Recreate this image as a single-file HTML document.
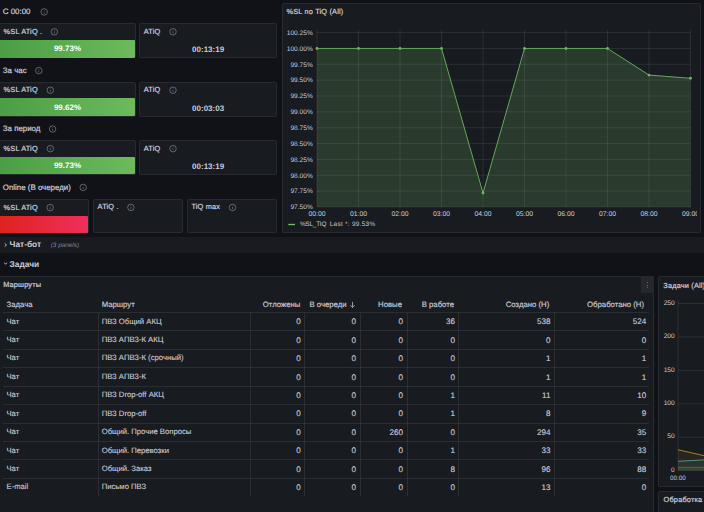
<!DOCTYPE html>
<html><head><meta charset="utf-8"><style>
*{margin:0;padding:0;box-sizing:border-box}
html,body{width:704px;height:512px;overflow:hidden;background:#111217;font-family:"Liberation Sans",sans-serif;color:#ccccdc;text-rendering:geometricPrecision}
.a{position:absolute}
.t{position:absolute;white-space:nowrap;line-height:1}
.p{position:absolute;background:#181b1f;border:1px solid rgba(204,204,220,0.09);border-radius:2px}
.ttl{font-size:7.35px;letter-spacing:0.18px;-webkit-text-stroke:0.22px #ccccdc;color:#ccccdc}
.hd{font-size:7.9px;-webkit-text-stroke:0.2px #ccccdc;color:#ccccdc}
.val{font-size:8px;font-weight:700;color:#fff;text-align:center}
.val2{font-size:8px;font-weight:700;color:#ccccdc;text-align:center}
.g{position:absolute;background:linear-gradient(to right,#4b9e45,#6cba5c)}
.yl{position:absolute;white-space:nowrap;line-height:1;font-size:6.6px;color:#ccccdc;text-align:right;width:30px}
.xl{position:absolute;white-space:nowrap;line-height:1;font-size:6.3px;color:#ccccdc;text-align:center;width:30px}
.th{position:absolute;white-space:nowrap;line-height:1;font-size:7.75px;-webkit-text-stroke:0.15px #ccccdc;color:#ccccdc}
.td{position:absolute;white-space:nowrap;line-height:1;font-size:7.7px;color:#ccccdc;-webkit-text-stroke:0.1px #ccccdc}
.tn{font-size:8.1px;-webkit-text-stroke:0.12px #ccccdc}
.r{text-align:right;width:80px}
</style></head>
<body>
<div class="t hd" style="left:2.8px;top:7.6px;">С 00:00</div><div class="p" style="left:-1px;top:23.2px;width:137px;height:35.0px"></div><div class="t ttl" style="left:3.6px;top:27.8px;">%SL ATiQ .</div><div class="g" style="left:0px;top:40.0px;width:135px;height:17.5px;border-radius:0 1px 1px 0"></div><div class="t val" style="left:-1px;width:137px;top:45.2px">99.73%</div><div class="p" style="left:139.2px;top:23.2px;width:137.8px;height:35.0px"></div><div class="t ttl" style="left:143.8px;top:27.8px;">ATiQ</div><div class="t val2" style="left:139.2px;width:137.8px;top:46.2px">00:13:19</div><div class="t hd" style="left:2.8px;top:66.6px;">За час</div><div class="p" style="left:-1px;top:81.6px;width:137px;height:35.0px"></div><div class="t ttl" style="left:3.6px;top:86.2px;">%SL ATiQ</div><div class="g" style="left:0px;top:98.4px;width:135px;height:17.5px;border-radius:0 1px 1px 0"></div><div class="t val" style="left:-1px;width:137px;top:103.6px">99.62%</div><div class="p" style="left:139.2px;top:81.6px;width:137.8px;height:35.0px"></div><div class="t ttl" style="left:143.8px;top:86.2px;">ATiQ</div><div class="t val2" style="left:139.2px;width:137.8px;top:104.6px">00:03:03</div><div class="t hd" style="left:2.8px;top:125.0px;">За период</div><div class="p" style="left:-1px;top:140.1px;width:137px;height:35.0px"></div><div class="t ttl" style="left:3.6px;top:144.7px;">%SL ATiQ</div><div class="g" style="left:0px;top:156.9px;width:135px;height:17.5px;border-radius:0 1px 1px 0"></div><div class="t val" style="left:-1px;width:137px;top:162.1px">99.73%</div><div class="p" style="left:139.2px;top:140.1px;width:137.8px;height:35.0px"></div><div class="t ttl" style="left:143.8px;top:144.7px;">ATiQ</div><div class="t val2" style="left:139.2px;width:137.8px;top:163.1px">00:13:19</div><div class="t hd" style="left:2.8px;top:183.5px;">Online (В очереди)</div><div class="p" style="left:-1px;top:198.8px;width:90px;height:34.4px"></div><div class="t ttl" style="left:3.6px;top:203.6px;">%SL ATiQ</div><div class="a" style="left:0;top:215.6px;width:88px;height:17.2px;background:linear-gradient(to right,#e0221f,#ed305c);border-radius:0 1px 1px 0"></div><div class="p" style="left:93px;top:198.8px;width:90.2px;height:34.4px"></div><div class="t ttl" style="left:97.6px;top:203.4px;">ATiQ .</div><div class="p" style="left:186.8px;top:198.8px;width:90.0px;height:34.4px"></div><div class="t ttl" style="left:191.4px;top:203.4px;">TiQ max</div><div class="p" style="left:281.5px;top:3px;width:419.5px;height:229.6px"></div><div class="t ttl" style="left:286.5px;top:8.2px;">%SL по TiQ (All)</div><div class="yl" style="left:282.8px;top:30.90px">100.25%</div><div class="yl" style="left:282.8px;top:46.75px">100.00%</div><div class="yl" style="left:282.8px;top:62.60px">99.75%</div><div class="yl" style="left:282.8px;top:78.45px">99.50%</div><div class="yl" style="left:282.8px;top:94.30px">99.25%</div><div class="yl" style="left:282.8px;top:110.15px">99.00%</div><div class="yl" style="left:282.8px;top:126.00px">98.75%</div><div class="yl" style="left:282.8px;top:141.85px">98.50%</div><div class="yl" style="left:282.8px;top:157.70px">98.25%</div><div class="yl" style="left:282.8px;top:173.55px">98.00%</div><div class="yl" style="left:282.8px;top:189.40px">97.75%</div><div class="yl" style="left:282.8px;top:205.25px">97.50%</div><div class="a" style="left:0;top:0;width:696.8px;height:240px;overflow:hidden"><div class="xl" style="left:302.00px;top:212.1px;font-size:6.8px">00:00</div><div class="xl" style="left:343.50px;top:212.1px;font-size:6.8px">01:00</div><div class="xl" style="left:385.00px;top:212.1px;font-size:6.8px">02:00</div><div class="xl" style="left:426.50px;top:212.1px;font-size:6.8px">03:00</div><div class="xl" style="left:468.00px;top:212.1px;font-size:6.8px">04:00</div><div class="xl" style="left:509.50px;top:212.1px;font-size:6.8px">05:00</div><div class="xl" style="left:551.00px;top:212.1px;font-size:6.8px">06:00</div><div class="xl" style="left:592.50px;top:212.1px;font-size:6.8px">07:00</div><div class="xl" style="left:634.00px;top:212.1px;font-size:6.8px">08:00</div><div class="xl" style="left:675.50px;top:212.1px;font-size:6.8px">09:00</div></div><div class="t " style="left:299.9px;top:222.4px;font-size:6.4px;color:#ccccdc;letter-spacing:-0.2px">%SL_TIQ</div><div class="t " style="left:329.7px;top:222.4px;font-size:6.4px;color:#ccccdc;letter-spacing:0.3px">Last *: 99.53%</div><div class="a" style="left:0;top:237px;width:704px;height:15.5px;background:#191b20"></div><div class="t hd" style="left:9.5px;top:239.9px;font-size:8.4px;font-weight:700;-webkit-text-stroke:0">Чат-бот</div><div class="t " style="left:50.7px;top:242.5px;font-size:6.4px;font-style:italic;color:rgba(204,204,220,0.6)">(3 panels)</div><div class="t hd" style="left:9.5px;top:260px;font-size:8.4px;font-weight:700;-webkit-text-stroke:0">Задачи</div><div class="p" style="left:-1px;top:276.4px;width:655.4px;height:250px"></div><div class="t ttl" style="left:3.2px;top:280.9px;">Маршруты</div><div class="a" style="left:641px;top:276.4px;width:12.6px;height:16.6px;background:#26282d;border-radius:0 2px 0 0"></div><div class="a" style="left:646.9px;top:282.1px;width:0.9px;height:0.9px;border-radius:50%;background:rgba(204,204,220,0.6)"></div><div class="a" style="left:646.9px;top:284.6px;width:0.9px;height:0.9px;border-radius:50%;background:rgba(204,204,220,0.6)"></div><div class="a" style="left:646.9px;top:287.1px;width:0.9px;height:0.9px;border-radius:50%;background:rgba(204,204,220,0.6)"></div><div class="a" style="left:3.4px;top:312.00px;width:645.6px;height:1px;background:rgba(204,204,220,0.10)"></div><div class="a" style="left:3.4px;top:330.42px;width:645.6px;height:1px;background:rgba(204,204,220,0.10)"></div><div class="a" style="left:3.4px;top:348.84px;width:645.6px;height:1px;background:rgba(204,204,220,0.10)"></div><div class="a" style="left:3.4px;top:367.26px;width:645.6px;height:1px;background:rgba(204,204,220,0.10)"></div><div class="a" style="left:3.4px;top:385.68px;width:645.6px;height:1px;background:rgba(204,204,220,0.10)"></div><div class="a" style="left:3.4px;top:404.10px;width:645.6px;height:1px;background:rgba(204,204,220,0.10)"></div><div class="a" style="left:3.4px;top:422.52px;width:645.6px;height:1px;background:rgba(204,204,220,0.10)"></div><div class="a" style="left:3.4px;top:440.94px;width:645.6px;height:1px;background:rgba(204,204,220,0.10)"></div><div class="a" style="left:3.4px;top:459.36px;width:645.6px;height:1px;background:rgba(204,204,220,0.10)"></div><div class="a" style="left:3.4px;top:477.78px;width:645.6px;height:1px;background:rgba(204,204,220,0.10)"></div><div class="a" style="left:98px;top:313.00px;width:1px;height:182.90px;background:rgba(204,204,220,0.10)"></div><div class="a" style="left:250px;top:313.00px;width:1px;height:182.90px;background:rgba(204,204,220,0.10)"></div><div class="a" style="left:304px;top:313.00px;width:1px;height:182.90px;background:rgba(204,204,220,0.10)"></div><div class="a" style="left:360px;top:313.00px;width:1px;height:182.90px;background:rgba(204,204,220,0.10)"></div><div class="a" style="left:407px;top:313.00px;width:1px;height:182.90px;background:rgba(204,204,220,0.10)"></div><div class="a" style="left:458px;top:313.00px;width:1px;height:182.90px;background:rgba(204,204,220,0.10)"></div><div class="a" style="left:554px;top:313.00px;width:1px;height:182.90px;background:rgba(204,204,220,0.10)"></div><div class="th" style="left:6.5px;top:301.2px">Задача</div><div class="th" style="left:101.7px;top:301.2px">Маршрут</div><div class="th r" style="left:220.4px;top:301.2px">Отложены</div><div class="th r" style="left:266.6px;top:301.2px">В очереди</div><div class="th r" style="left:322px;top:301.2px">Новые</div><div class="th r" style="left:374px;top:301.2px">В работе</div><div class="th r" style="left:469.3px;top:301.2px">Создано (Н)</div><div class="th r" style="left:564px;top:301.2px">Обработано (Н)</div><div class="td" style="left:6.5px;top:317.60px">Чат</div><div class="td" style="left:101.7px;top:317.60px">ПВЗ Общий АКЦ</div><div class="td tn r" style="left:220.80px;top:318.30px">0</div><div class="td tn r" style="left:276.00px;top:318.30px">0</div><div class="td tn r" style="left:323.00px;top:318.30px">0</div><div class="td tn r" style="left:375.00px;top:318.30px">36</div><div class="td tn r" style="left:470.50px;top:318.30px">538</div><div class="td tn r" style="left:566.30px;top:318.30px">524</div><div class="td" style="left:6.5px;top:336.02px">Чат</div><div class="td" style="left:101.7px;top:336.02px">ПВЗ АПВЗ-К АКЦ</div><div class="td tn r" style="left:220.80px;top:336.72px">0</div><div class="td tn r" style="left:276.00px;top:336.72px">0</div><div class="td tn r" style="left:323.00px;top:336.72px">0</div><div class="td tn r" style="left:375.00px;top:336.72px">0</div><div class="td tn r" style="left:470.50px;top:336.72px">0</div><div class="td tn r" style="left:566.30px;top:336.72px">0</div><div class="td" style="left:6.5px;top:354.44px">Чат</div><div class="td" style="left:101.7px;top:354.44px">ПВЗ АПВЗ-К (срочный)</div><div class="td tn r" style="left:220.80px;top:355.14px">0</div><div class="td tn r" style="left:276.00px;top:355.14px">0</div><div class="td tn r" style="left:323.00px;top:355.14px">0</div><div class="td tn r" style="left:375.00px;top:355.14px">0</div><div class="td tn r" style="left:470.50px;top:355.14px">1</div><div class="td tn r" style="left:566.30px;top:355.14px">1</div><div class="td" style="left:6.5px;top:372.86px">Чат</div><div class="td" style="left:101.7px;top:372.86px">ПВЗ АПВЗ-К</div><div class="td tn r" style="left:220.80px;top:373.56px">0</div><div class="td tn r" style="left:276.00px;top:373.56px">0</div><div class="td tn r" style="left:323.00px;top:373.56px">0</div><div class="td tn r" style="left:375.00px;top:373.56px">0</div><div class="td tn r" style="left:470.50px;top:373.56px">1</div><div class="td tn r" style="left:566.30px;top:373.56px">1</div><div class="td" style="left:6.5px;top:391.28px">Чат</div><div class="td" style="left:101.7px;top:391.28px">ПВЗ Drop-off АКЦ</div><div class="td tn r" style="left:220.80px;top:391.98px">0</div><div class="td tn r" style="left:276.00px;top:391.98px">0</div><div class="td tn r" style="left:323.00px;top:391.98px">0</div><div class="td tn r" style="left:375.00px;top:391.98px">1</div><div class="td tn r" style="left:470.50px;top:391.98px">11</div><div class="td tn r" style="left:566.30px;top:391.98px">10</div><div class="td" style="left:6.5px;top:409.70px">Чат</div><div class="td" style="left:101.7px;top:409.70px">ПВЗ Drop-off</div><div class="td tn r" style="left:220.80px;top:410.40px">0</div><div class="td tn r" style="left:276.00px;top:410.40px">0</div><div class="td tn r" style="left:323.00px;top:410.40px">0</div><div class="td tn r" style="left:375.00px;top:410.40px">1</div><div class="td tn r" style="left:470.50px;top:410.40px">8</div><div class="td tn r" style="left:566.30px;top:410.40px">9</div><div class="td" style="left:6.5px;top:428.12px">Чат</div><div class="td" style="left:101.7px;top:428.12px">Общий. Прочие Вопросы</div><div class="td tn r" style="left:220.80px;top:428.82px">0</div><div class="td tn r" style="left:276.00px;top:428.82px">0</div><div class="td tn r" style="left:323.00px;top:428.82px">260</div><div class="td tn r" style="left:375.00px;top:428.82px">0</div><div class="td tn r" style="left:470.50px;top:428.82px">294</div><div class="td tn r" style="left:566.30px;top:428.82px">35</div><div class="td" style="left:6.5px;top:446.54px">Чат</div><div class="td" style="left:101.7px;top:446.54px">Общий. Перевозки</div><div class="td tn r" style="left:220.80px;top:447.24px">0</div><div class="td tn r" style="left:276.00px;top:447.24px">0</div><div class="td tn r" style="left:323.00px;top:447.24px">0</div><div class="td tn r" style="left:375.00px;top:447.24px">1</div><div class="td tn r" style="left:470.50px;top:447.24px">33</div><div class="td tn r" style="left:566.30px;top:447.24px">33</div><div class="td" style="left:6.5px;top:464.96px">Чат</div><div class="td" style="left:101.7px;top:464.96px">Общий. Заказ</div><div class="td tn r" style="left:220.80px;top:465.66px">0</div><div class="td tn r" style="left:276.00px;top:465.66px">0</div><div class="td tn r" style="left:323.00px;top:465.66px">0</div><div class="td tn r" style="left:375.00px;top:465.66px">8</div><div class="td tn r" style="left:470.50px;top:465.66px">96</div><div class="td tn r" style="left:566.30px;top:465.66px">88</div><div class="td" style="left:6.5px;top:483.38px">E-mail</div><div class="td" style="left:101.7px;top:483.38px">Письмо ПВЗ</div><div class="td tn r" style="left:220.80px;top:484.08px">0</div><div class="td tn r" style="left:276.00px;top:484.08px">0</div><div class="td tn r" style="left:323.00px;top:484.08px">0</div><div class="td tn r" style="left:375.00px;top:484.08px">0</div><div class="td tn r" style="left:470.50px;top:484.08px">13</div><div class="td tn r" style="left:566.30px;top:484.08px">0</div><div class="p" style="left:658.4px;top:276.4px;width:60px;height:211px"></div><div class="t ttl" style="left:663.3px;top:281.8px;">Задачи (All)</div><div class="yl" style="left:644.7px;top:300.70px">250</div><div class="yl" style="left:644.7px;top:334.12px">200</div><div class="yl" style="left:644.7px;top:367.54px">150</div><div class="yl" style="left:644.7px;top:400.96px">100</div><div class="yl" style="left:644.7px;top:434.38px">50</div><div class="yl" style="left:644.7px;top:467.80px">0</div><div class="xl" style="left:663px;top:475.7px">00:00</div><div class="p" style="left:658.4px;top:491.2px;width:60px;height:40px"></div><div class="t ttl" style="left:663.6px;top:496px;">Обработка</div>
<svg class="a" style="left:0;top:0" width="704" height="512" viewBox="0 0 704 512"><circle cx="44.20" cy="11.90" r="3.25" fill="none" stroke="rgba(204,204,220,0.55)" stroke-width="0.75"/><line x1="44.20" x2="44.20" y1="11.50" y2="13.60" stroke="rgba(204,204,220,0.5)" stroke-width="0.7"/><circle cx="44.20" cy="10.40" r="0.4" fill="rgba(204,204,220,0.5)"/><circle cx="54.30" cy="31.80" r="3.25" fill="none" stroke="rgba(204,204,220,0.55)" stroke-width="0.75"/><line x1="54.30" x2="54.30" y1="31.40" y2="33.50" stroke="rgba(204,204,220,0.5)" stroke-width="0.7"/><circle cx="54.30" cy="30.30" r="0.4" fill="rgba(204,204,220,0.5)"/><circle cx="173.00" cy="31.80" r="3.25" fill="none" stroke="rgba(204,204,220,0.55)" stroke-width="0.75"/><line x1="173.00" x2="173.00" y1="31.40" y2="33.50" stroke="rgba(204,204,220,0.5)" stroke-width="0.7"/><circle cx="173.00" cy="30.30" r="0.4" fill="rgba(204,204,220,0.5)"/><circle cx="38.80" cy="70.65" r="3.25" fill="none" stroke="rgba(204,204,220,0.55)" stroke-width="0.75"/><line x1="38.80" x2="38.80" y1="70.25" y2="72.35" stroke="rgba(204,204,220,0.5)" stroke-width="0.7"/><circle cx="38.80" cy="69.15" r="0.4" fill="rgba(204,204,220,0.5)"/><circle cx="50.30" cy="90.20" r="3.25" fill="none" stroke="rgba(204,204,220,0.55)" stroke-width="0.75"/><line x1="50.30" x2="50.30" y1="89.80" y2="91.90" stroke="rgba(204,204,220,0.5)" stroke-width="0.7"/><circle cx="50.30" cy="88.70" r="0.4" fill="rgba(204,204,220,0.5)"/><circle cx="173.00" cy="90.20" r="3.25" fill="none" stroke="rgba(204,204,220,0.55)" stroke-width="0.75"/><line x1="173.00" x2="173.00" y1="89.80" y2="91.90" stroke="rgba(204,204,220,0.5)" stroke-width="0.7"/><circle cx="173.00" cy="88.70" r="0.4" fill="rgba(204,204,220,0.5)"/><circle cx="52.60" cy="129.00" r="3.25" fill="none" stroke="rgba(204,204,220,0.55)" stroke-width="0.75"/><line x1="52.60" x2="52.60" y1="128.60" y2="130.70" stroke="rgba(204,204,220,0.5)" stroke-width="0.7"/><circle cx="52.60" cy="127.50" r="0.4" fill="rgba(204,204,220,0.5)"/><circle cx="50.30" cy="148.70" r="3.25" fill="none" stroke="rgba(204,204,220,0.55)" stroke-width="0.75"/><line x1="50.30" x2="50.30" y1="148.30" y2="150.40" stroke="rgba(204,204,220,0.5)" stroke-width="0.7"/><circle cx="50.30" cy="147.20" r="0.4" fill="rgba(204,204,220,0.5)"/><circle cx="173.00" cy="148.70" r="3.25" fill="none" stroke="rgba(204,204,220,0.55)" stroke-width="0.75"/><line x1="173.00" x2="173.00" y1="148.30" y2="150.40" stroke="rgba(204,204,220,0.5)" stroke-width="0.7"/><circle cx="173.00" cy="147.20" r="0.4" fill="rgba(204,204,220,0.5)"/><circle cx="83.20" cy="187.40" r="3.25" fill="none" stroke="rgba(204,204,220,0.55)" stroke-width="0.75"/><line x1="83.20" x2="83.20" y1="187.00" y2="189.10" stroke="rgba(204,204,220,0.5)" stroke-width="0.7"/><circle cx="83.20" cy="185.90" r="0.4" fill="rgba(204,204,220,0.5)"/><circle cx="50.20" cy="207.60" r="3.25" fill="none" stroke="rgba(204,204,220,0.55)" stroke-width="0.75"/><line x1="50.20" x2="50.20" y1="207.20" y2="209.30" stroke="rgba(204,204,220,0.5)" stroke-width="0.7"/><circle cx="50.20" cy="206.10" r="0.4" fill="rgba(204,204,220,0.5)"/><circle cx="130.90" cy="207.40" r="3.25" fill="none" stroke="rgba(204,204,220,0.55)" stroke-width="0.75"/><line x1="130.90" x2="130.90" y1="207.00" y2="209.10" stroke="rgba(204,204,220,0.5)" stroke-width="0.7"/><circle cx="130.90" cy="205.90" r="0.4" fill="rgba(204,204,220,0.5)"/><circle cx="232.50" cy="207.40" r="3.25" fill="none" stroke="rgba(204,204,220,0.55)" stroke-width="0.75"/><line x1="232.50" x2="232.50" y1="207.00" y2="209.10" stroke="rgba(204,204,220,0.5)" stroke-width="0.7"/><circle cx="232.50" cy="205.90" r="0.4" fill="rgba(204,204,220,0.5)"/><line x1="317.0" x2="690.5" y1="32.60" y2="32.60" stroke="rgba(204,204,220,0.14)" stroke-width="0.8"/><line x1="317.0" x2="690.5" y1="48.45" y2="48.45" stroke="rgba(204,204,220,0.14)" stroke-width="0.8"/><line x1="317.0" x2="690.5" y1="64.30" y2="64.30" stroke="rgba(204,204,220,0.14)" stroke-width="0.8"/><line x1="317.0" x2="690.5" y1="80.15" y2="80.15" stroke="rgba(204,204,220,0.14)" stroke-width="0.8"/><line x1="317.0" x2="690.5" y1="96.00" y2="96.00" stroke="rgba(204,204,220,0.14)" stroke-width="0.8"/><line x1="317.0" x2="690.5" y1="111.85" y2="111.85" stroke="rgba(204,204,220,0.14)" stroke-width="0.8"/><line x1="317.0" x2="690.5" y1="127.70" y2="127.70" stroke="rgba(204,204,220,0.14)" stroke-width="0.8"/><line x1="317.0" x2="690.5" y1="143.55" y2="143.55" stroke="rgba(204,204,220,0.14)" stroke-width="0.8"/><line x1="317.0" x2="690.5" y1="159.40" y2="159.40" stroke="rgba(204,204,220,0.14)" stroke-width="0.8"/><line x1="317.0" x2="690.5" y1="175.25" y2="175.25" stroke="rgba(204,204,220,0.14)" stroke-width="0.8"/><line x1="317.0" x2="690.5" y1="191.10" y2="191.10" stroke="rgba(204,204,220,0.14)" stroke-width="0.8"/><line x1="317.0" x2="690.5" y1="206.95" y2="206.95" stroke="rgba(204,204,220,0.14)" stroke-width="0.8"/><line x1="317.00" x2="317.00" y1="29.8" y2="206.95" stroke="rgba(204,204,220,0.14)" stroke-width="0.8"/><line x1="358.50" x2="358.50" y1="29.8" y2="206.95" stroke="rgba(204,204,220,0.14)" stroke-width="0.8"/><line x1="400.00" x2="400.00" y1="29.8" y2="206.95" stroke="rgba(204,204,220,0.14)" stroke-width="0.8"/><line x1="441.50" x2="441.50" y1="29.8" y2="206.95" stroke="rgba(204,204,220,0.14)" stroke-width="0.8"/><line x1="483.00" x2="483.00" y1="29.8" y2="206.95" stroke="rgba(204,204,220,0.14)" stroke-width="0.8"/><line x1="524.50" x2="524.50" y1="29.8" y2="206.95" stroke="rgba(204,204,220,0.14)" stroke-width="0.8"/><line x1="566.00" x2="566.00" y1="29.8" y2="206.95" stroke="rgba(204,204,220,0.14)" stroke-width="0.8"/><line x1="607.50" x2="607.50" y1="29.8" y2="206.95" stroke="rgba(204,204,220,0.14)" stroke-width="0.8"/><line x1="649.00" x2="649.00" y1="29.8" y2="206.95" stroke="rgba(204,204,220,0.14)" stroke-width="0.8"/><line x1="690.50" x2="690.50" y1="29.8" y2="206.95" stroke="rgba(204,204,220,0.14)" stroke-width="0.8"/><polygon points="317.0,206.95 317.00,48.45 358.50,48.45 400.00,48.45 441.50,48.45 483.00,193.00 524.50,48.45 566.00,48.45 607.50,48.45 649.00,75.08 690.50,78.25 690.50,206.95" fill="rgba(115,191,105,0.2)"/><polyline points="317.00,48.45 358.50,48.45 400.00,48.45 441.50,48.45 483.00,193.00 524.50,48.45 566.00,48.45 607.50,48.45 649.00,75.08 690.50,78.25" fill="none" stroke="#62a95a" stroke-width="1"/><circle cx="317.00" cy="48.45" r="1.45" fill="#6cb562"/><circle cx="358.50" cy="48.45" r="1.45" fill="#6cb562"/><circle cx="400.00" cy="48.45" r="1.45" fill="#6cb562"/><circle cx="441.50" cy="48.45" r="1.45" fill="#6cb562"/><circle cx="483.00" cy="193.00" r="1.45" fill="#6cb562"/><circle cx="524.50" cy="48.45" r="1.45" fill="#6cb562"/><circle cx="566.00" cy="48.45" r="1.45" fill="#6cb562"/><circle cx="607.50" cy="48.45" r="1.45" fill="#6cb562"/><circle cx="649.00" cy="75.08" r="1.45" fill="#6cb562"/><circle cx="690.50" cy="78.25" r="1.45" fill="#6cb562"/><polyline points="4.7,243.3 6.5,244.9 4.7,246.5" fill="none" stroke="#b8b8c6" stroke-width="1"/><polyline points="4.3,262.7 5.6,264.3 6.9,262.7" fill="none" stroke="#b8b8c6" stroke-width="1"/><line x1="288.3" x2="295" y1="224.5" y2="224.5" stroke="#73bf69" stroke-width="1.3"/><line x1="678.0" x2="704" y1="303.50" y2="303.50" stroke="rgba(204,204,220,0.14)" stroke-width="0.8"/><line x1="678.0" x2="704" y1="336.92" y2="336.92" stroke="rgba(204,204,220,0.14)" stroke-width="0.8"/><line x1="678.0" x2="704" y1="370.34" y2="370.34" stroke="rgba(204,204,220,0.14)" stroke-width="0.8"/><line x1="678.0" x2="704" y1="403.76" y2="403.76" stroke="rgba(204,204,220,0.14)" stroke-width="0.8"/><line x1="678.0" x2="704" y1="437.18" y2="437.18" stroke="rgba(204,204,220,0.14)" stroke-width="0.8"/><line x1="678.0" x2="704" y1="470.60" y2="470.60" stroke="rgba(204,204,220,0.14)" stroke-width="0.8"/><line x1="678.0" x2="678.0" y1="300" y2="470.60" stroke="rgba(204,204,220,0.14)" stroke-width="0.8"/><polygon points="678.0,470.6 678.0,449.8 704,455.6 704,470.6" fill="rgba(230,190,40,0.07)"/><polygon points="678.0,470.6 678.0,461.25 704,459.9 704,470.6" fill="rgba(95,169,169,0.10)"/><polygon points="678.0,470.6 678.0,467.3 704,467.3 704,470.6" fill="rgba(115,191,105,0.14)"/><polyline points="678.0,449.8 704,455.6" fill="none" stroke="#c29a30" stroke-width="0.8"/><polyline points="678.0,461.25 704,459.9" fill="none" stroke="#5ea9a9" stroke-width="0.8"/><polyline points="678.0,467.3 704,467.3" fill="none" stroke="#4d7a48" stroke-width="0.8"/><path d="M352.5,301.8 V307.4 M350.4,305.2 L352.5,307.4 L354.6,305.2" fill="none" stroke="rgba(204,204,220,0.8)" stroke-width="0.9"/></svg>
</body></html>
